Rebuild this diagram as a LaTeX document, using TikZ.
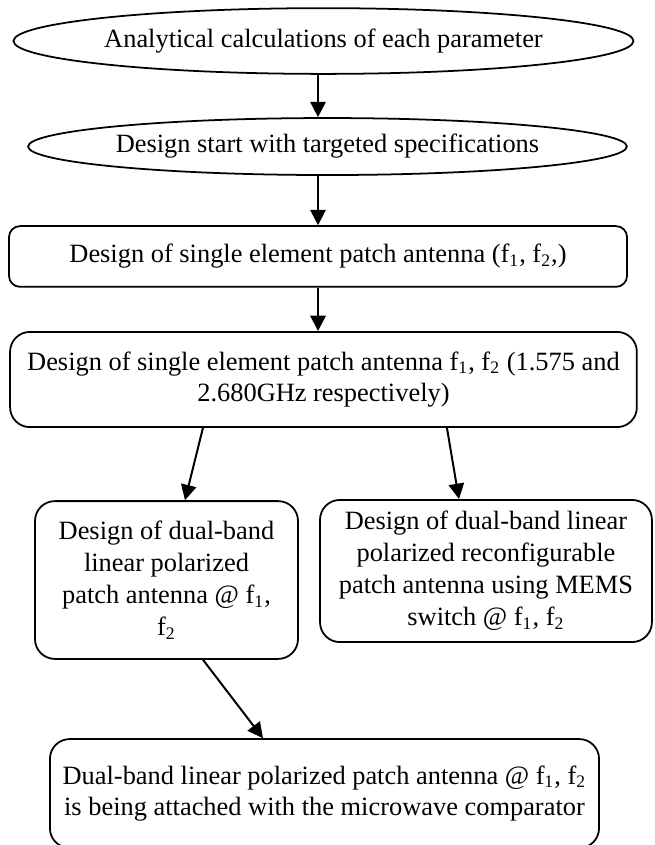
\documentclass[tikz,border=0pt]{standalone}
\usepackage{fontspec}
\setmainfont{Liberation Serif}
\usepackage{tikz}
\usetikzlibrary{arrows.meta,positioning,shapes.geometric,calc}

\begin{document}
\begin{tikzpicture}[
  ebox/.style={ellipse, draw, line width=0.8pt, inner sep=0pt,
               font=\fontsize{12}{14.5}\selectfont, align=center},
  rbox/.style={rectangle, draw, line width=0.8pt, inner sep=0pt,
               rounded corners=9pt, font=\fontsize{12}{14.5}\selectfont, align=center},
  farr/.style={-{Triangle[length=7pt,width=7pt]}, line width=0.9pt}
]
\useasboundingbox (0,0) rectangle (10.445,-13.495);

% Start ellipses
\node[ebox, minimum width=9.28cm, minimum height=1.05cm] (calc)  at (5.166,-0.655) {Analytical calculations of each parameter};
\node[ebox, minimum width=9.41cm, minimum height=0.91cm] (start) at (5.230,-2.340) {Design start with targeted specifications};

% Single element stages
\node[rbox, rounded corners=5pt, minimum width=9.87cm, minimum height=0.97cm] (single) at (5.079,-4.096)
  {Design of single element patch antenna (f\textsubscript{1}, f\textsubscript{2},)};
\node[rbox, minimum width=10.01cm, minimum height=1.52cm] (freq) at (5.166,-6.061)
  {Design of single element patch antenna f\textsubscript{1}, f\textsubscript{2} (1.575 and\\2.680GHz respectively)};

% Dual-band branches
\node[rbox, minimum width=4.20cm, minimum height=2.52cm] (dual) at (2.659,-9.263)
  {Design of dual-band\\linear polarized\\patch antenna @ f\textsubscript{1},\\f\textsubscript{2}};
\node[rbox, minimum width=5.30cm, minimum height=2.27cm] (mems) at (7.761,-9.119)
  {Design of dual-band linear\\polarized reconfigurable\\patch antenna using MEMS\\switch @ f\textsubscript{1}, f\textsubscript{2}};

% Final stage
\node[rbox, minimum width=8.77cm, minimum height=1.74cm] (comp) at (5.182,-12.673)
  {Dual-band linear polarized patch antenna @ f\textsubscript{1}, f\textsubscript{2}\\is being attached with the microwave comparator};

% Arrows
\draw[farr] (calc.south -| single.north)  -- (start.north -| single.north);
\draw[farr] (start.south -| single.north) -- (single.north);
\draw[farr] (single.south) -- (single.south |- freq.north);
\draw[farr] ([xshift=-1.925cm]freq.south) -- ([xshift=0.295cm]dual.north);
\draw[farr] ([xshift=1.972cm]freq.south)  -- ([xshift=-0.431cm]mems.north);
\draw[farr] ([xshift=0.583cm]dual.south)  -- ([xshift=-0.982cm]comp.north);
\end{tikzpicture}
\end{document}
